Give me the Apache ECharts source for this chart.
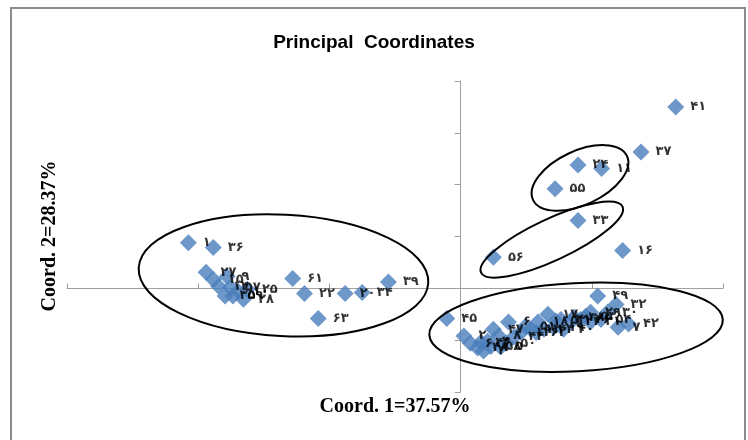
<!DOCTYPE html>
<html>
<head>
<meta charset="utf-8">
<script src="https://cdn.jsdelivr.net/npm/echarts@6/dist/echarts.min.js"></script>
<style>
  html, body { margin: 0; padding: 0; background: #fff; }
  #chart { width: 748px; height: 440px; }
</style>
</head>
<body>
<div id="chart"></div>
<script>
// genotype numbers (shown in Persian digits)
const ids = [
  41, 37, 24, 11, 55, 33, 16, 56,
  1, 36, 27, 15, 9, 14, 35, 59, 28, 25, 57, 10, 61, 22, 20, 34, 39, 63,
  45, 2, 3, 4, 5, 6, 8, 12, 13, 17, 18, 19, 21, 23, 26, 29, 49, 32, 7, 42,
  30, 31, 38, 40, 43, 44, 46, 47, 48, 50, 51, 52, 53, 54, 58, 60, 62
];
const coord1 = [
  0.328, 0.275, 0.179, 0.215, 0.144, 0.179, 0.247, 0.050,
  -0.415, -0.377, -0.388, -0.377, -0.356, -0.369, -0.359, -0.347, -0.331, -0.325, -0.351, -0.339,
  -0.256, -0.238, -0.176, -0.150, -0.110, -0.217,
  -0.021, 0.005, 0.035, 0.041, 0.061, 0.073, 0.058, 0.092, 0.107, 0.133, 0.118, 0.142, 0.153,
  0.168, 0.183, 0.198, 0.209, 0.237, 0.240, 0.256,
  0.224, 0.198, 0.173, 0.157, 0.127, 0.081, 0.031, 0.050, 0.026, 0.069, 0.099, 0.145, 0.191,
  0.214, 0.046, 0.015, 0.115
];
const coord2 = [
  0.350, 0.263, 0.238, 0.231, 0.192, 0.131, 0.073, 0.060,
  0.088, 0.079, 0.031, 0.017, 0.023, 0.004, -0.015, -0.015, -0.021, -0.002, 0.002, -0.006,
  0.019, -0.010, -0.010, -0.008, 0.012, -0.058,
  -0.058, -0.092, -0.121, -0.102, -0.113, -0.065, -0.092, -0.085, -0.079, -0.050, -0.065, -0.075, -0.060,
  -0.065, -0.060, -0.046, -0.015, -0.031, -0.075, -0.069,
  -0.046, -0.065, -0.056, -0.079, -0.079, -0.094, -0.104, -0.079, -0.115, -0.106, -0.073, -0.063, -0.054,
  -0.060, -0.112, -0.106, -0.085
];
// group outlines: centre x, centre y, half width (coord1 units), half height (coord2 units), tilt in degrees
const groupCx = [-0.270, 0.176, 0.182, 0.139];
const groupCy = [0.025, -0.075, 0.213, 0.094];
const groupRx = [0.221, 0.224, 0.079, 0.119];
const groupRy = [0.117, 0.085, 0.052, 0.040];
const groupTilt = [-3, 3, 25, 25];

const FA = '۰۱۲۳۴۵۶۷۸۹';
const toFa = (n) => String(n).replace(/\d/g, (d) => FA[d]);

const points = ids.map((id, i) => [coord1[i], coord2[i], id]);
const groups = groupCx.map((cx, i) => [cx, groupCy[i], groupRx[i], groupRy[i], groupTilt[i]]);

const chart = echarts.init(document.getElementById('chart'), null, { renderer: 'canvas' });

chart.setOption({
  backgroundColor: '#fff',
  animation: false,
  title: {
    text: 'Principal  Coordinates',
    left: 'center',
    top: 28,
    textStyle: { fontFamily: 'Liberation Sans', fontWeight: 'bold', fontSize: 19, color: '#000' },
  },
  grid: { left: 67, right: 25, top: 81, bottom: 48 },
  xAxis: {
    type: 'value',
    min: -0.6,
    max: 0.4,
    interval: 0.2,
    axisLine: { onZero: true, lineStyle: { color: '#a0a0a0', width: 1 } },
    axisTick: { show: true, inside: true, length: 5, lineStyle: { color: '#a0a0a0' } },
    axisLabel: { show: false },
    splitLine: { show: false },
  },
  yAxis: {
    type: 'value',
    min: -0.2,
    max: 0.4,
    interval: 0.1,
    axisLine: { show: true, onZero: true, lineStyle: { color: '#a0a0a0', width: 1 } },
    axisTick: { show: true, length: 6, lineStyle: { color: '#a0a0a0' } },
    axisLabel: { show: false },
    splitLine: { show: false },
  },
  graphic: [
    {
      type: 'rect',
      shape: { x: 11, y: 8, width: 734, height: 450 },
      style: { fill: 'none', stroke: '#8c8c8c', lineWidth: 2 },
      silent: true,
    },
    {
      type: 'text',
      x: 395,
      y: 407,
      style: {
        text: 'Coord. 1=37.57%',
        fontFamily: 'Liberation Serif',
        fontWeight: 'bold',
        fontSize: 20,
        fill: '#000',
        align: 'center',
        verticalAlign: 'middle',
      },
    },
    {
      type: 'text',
      x: 50,
      y: 236,
      rotation: Math.PI / 2,
      style: {
        text: 'Coord. 2=28.37%',
        fontFamily: 'Liberation Serif',
        fontWeight: 'bold',
        fontSize: 20,
        fill: '#000',
        align: 'center',
        verticalAlign: 'middle',
      },
    },
  ],
  series: [
    {
      type: 'scatter',
      data: points,
      symbol: 'diamond',
      symbolSize: 17,
      itemStyle: { color: '#4a7ebb' },
      label: {
        show: true,
        position: 'right',
        distance: 6,
        formatter: (p) => toFa(p.value[2]),
        fontFamily: 'DejaVu Sans',
        fontWeight: 'bold',
        fontSize: 13,
        color: '#000',
      },
      z: 3,
    },
    {
      type: 'custom',
      data: groups,
      silent: true,
      clip: false,
      z: 4,
      encode: { x: 0, y: 1 },
      renderItem: (params, api) => {
        const c = api.coord([api.value(0), api.value(1)]);
        const s = api.size([api.value(2), api.value(3)]);
        return {
          type: 'ellipse',
          x: c[0],
          y: c[1],
          rotation: (api.value(4) * Math.PI) / 180,
          shape: { cx: 0, cy: 0, rx: s[0], ry: s[1] },
          style: { fill: 'none', stroke: '#000', lineWidth: 2 },
        };
      },
    },
  ],
});
</script>
</body>
</html>
